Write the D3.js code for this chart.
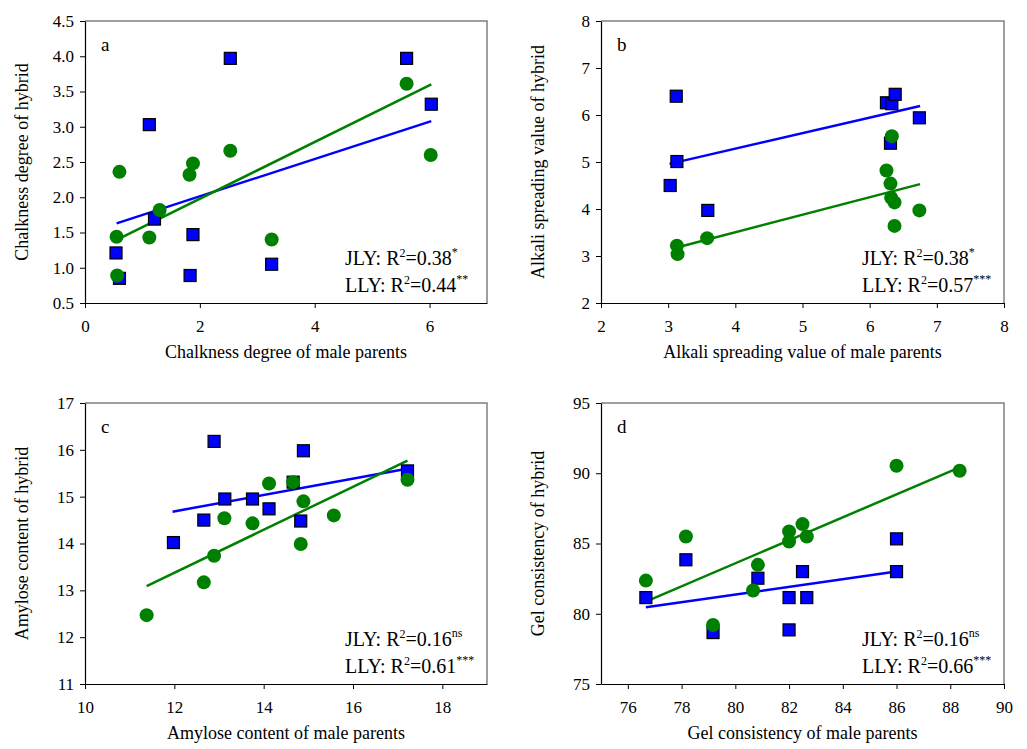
<!DOCTYPE html>
<html>
<head>
<meta charset="utf-8">
<script src="https://cdn.jsdelivr.net/npm/d3@7"></script>
<style>
  body { margin: 0; background: #fff; }
  svg text { font-family: "Liberation Serif", "Times New Roman", serif; fill: #000; }
</style>
</head>
<body>
<div id="chart"></div>
<script>
// a: chalkness degree
const chalkJLY = [[2.53, 3.97], [5.60, 3.97], [6.03, 3.32], [1.12, 3.03], [1.21, 1.69], [1.88, 1.47], [0.54, 1.21], [3.25, 1.05], [1.83, 0.89], [0.60, 0.85]];
const chalkLLY = [[5.60, 3.61], [6.02, 2.60], [2.53, 2.66], [1.88, 2.48], [1.82, 2.32], [0.60, 2.36], [1.30, 1.82], [0.55, 1.44], [1.12, 1.43], [3.25, 1.40], [0.56, 0.89]];
const chalkFitJLY = [[0.55, 1.63], [6.03, 3.08]];
const chalkFitLLY = [[0.56, 1.40], [6.03, 3.60]];

// b: alkali spreading value
const alkaliJLY = [[3.12, 6.40], [3.13, 5.01], [3.03, 4.50], [3.59, 3.97], [6.25, 6.26], [6.33, 6.24], [6.38, 6.44], [6.74, 5.94], [6.31, 5.40]];
const alkaliLLY = [[3.13, 3.22], [3.14, 3.04], [3.58, 3.38], [6.33, 5.55], [6.25, 4.82], [6.31, 4.54], [6.32, 4.24], [6.37, 4.14], [6.37, 3.64], [6.74, 3.97]];
const alkaliFitJLY = [[3.02, 4.96], [6.75, 6.19]];
const alkaliFitLLY = [[3.13, 3.18], [6.75, 4.53]];

// c: amylose content
const amyloseJLY = [[12.89, 16.18], [14.89, 15.98], [17.22, 15.55], [14.66, 15.31], [13.13, 14.95], [13.75, 14.95], [14.12, 14.74], [12.66, 14.50], [14.83, 14.48], [11.98, 14.02]];
const amyloseLLY = [[14.12, 15.28], [14.66, 15.31], [17.22, 15.36], [14.89, 14.90], [15.57, 14.60], [13.12, 14.54], [13.75, 14.43], [14.83, 13.99], [12.89, 13.74], [12.66, 13.17], [11.38, 12.47]];
const amyloseFitJLY = [[11.96, 14.68], [17.24, 15.60]];
const amyloseFitLLY = [[11.38, 13.09], [17.22, 15.77]];

// d: gel consistency
const gelJLY = [[76.67, 81.15], [78.16, 83.84], [79.17, 78.66], [80.84, 82.53], [82.0, 81.15], [82.0, 78.85], [82.5, 83.0], [82.66, 81.15], [86.0, 85.33], [86.0, 83.0]];
const gelLLY = [[76.67, 82.36], [78.16, 85.5], [79.17, 79.2], [80.66, 81.65], [80.84, 83.48], [82.0, 85.86], [82.0, 85.14], [82.5, 86.38], [82.66, 85.5], [86.0, 90.53], [88.35, 90.18]];
const gelFitJLY = [[76.67, 80.46], [86.0, 83.0]];
const gelFitLLY = [[76.67, 80.87], [88.35, 90.42]];

// 축 눈금과 제목
const panelLetters = ["a", "b", "c", "d"];
const xTitles = ["Chalkness degree of male parents", "Alkali spreading value of male parents", "Amylose content of male parents", "Gel consistency of male parents"];
const yTitles = ["Chalkness degree of hybrid", "Alkali spreading value of hybrid", "Amylose content of hybrid", "Gel consistency of hybrid"];
const xDomains = [[0, 7], [2, 8], [10, 19], [75, 90]];
const yDomains = [[0.5, 4.5], [2, 8], [11, 17], [75, 95]];
const xTickValues = [[0, 2, 4, 6], [2, 3, 4, 5, 6, 7, 8], [10, 12, 14, 16, 18], [76, 78, 80, 82, 84, 86, 88, 90]];
const yTickValues = [[0.5, 1.0, 1.5, 2.0, 2.5, 3.0, 3.5, 4.0, 4.5], [2, 3, 4, 5, 6, 7, 8], [11, 12, 13, 14, 15, 16, 17], [75, 80, 85, 90, 95]];
const r2JLY = ["0.38", "0.38", "0.16", "0.16"];
const sigJLY = ["*", "*", "ns", "ns"];
const r2LLY = ["0.44", "0.57", "0.61", "0.66"];
const sigLLY = ["**", "***", "***", "***"];

const width = 1027, height = 749;
const svg = d3.select("#chart").append("svg")
  .attr("width", width)
  .attr("height", height);

// 패널 위치 (플롯 영역)
const boxes = [
  { x: 85, y: 21, w: 402, h: 282 },
  { x: 601, y: 21, w: 403, h: 282 },
  { x: 85, y: 403, w: 402, h: 281 },
  { x: 601, y: 403, w: 403, h: 281 }
];

const panels = [
  { jly: chalkJLY, lly: chalkLLY, fitJ: chalkFitJLY, fitL: chalkFitLLY, fmt: d3.format(".1f") },
  { jly: alkaliJLY, lly: alkaliLLY, fitJ: alkaliFitJLY, fitL: alkaliFitLLY, fmt: d3.format("d") },
  { jly: amyloseJLY, lly: amyloseLLY, fitJ: amyloseFitJLY, fitL: amyloseFitLLY, fmt: d3.format("d") },
  { jly: gelJLY, lly: gelLLY, fitJ: gelFitJLY, fitL: gelFitLLY, fmt: d3.format("d") }
];

panels.forEach((p, i) => {
  const b = boxes[i];
  const g = svg.append("g").attr("transform", `translate(${b.x},${b.y})`);

  const x = d3.scaleLinear().domain(xDomains[i]).range([0, b.w]);
  const y = d3.scaleLinear().domain(yDomains[i]).range([b.h, 0]);

  // 위/오른쪽 테두리 (회색)
  g.append("path")
    .attr("d", `M0,0H${b.w}V${b.h}`)
    .attr("fill", "none")
    .attr("stroke", "#808080")
    .attr("stroke-width", 1.5);

  // 축
  const xAxis = g.append("g")
    .attr("transform", `translate(0,${b.h})`)
    .call(d3.axisBottom(x).tickValues(xTickValues[i]).tickFormat(d3.format("d")).tickSize(5).tickPadding(12).tickSizeOuter(0));
  const yAxis = g.append("g")
    .call(d3.axisLeft(y).tickValues(yTickValues[i]).tickFormat(p.fmt).tickSize(5).tickPadding(6).tickSizeOuter(0));

  [xAxis, yAxis].forEach(ax => {
    ax.select(".domain").attr("stroke", "#000").attr("stroke-width", 1.2);
    ax.selectAll(".tick line").attr("stroke", "#000");
    ax.selectAll("text")
      .attr("font-family", "Liberation Serif, serif")
      .attr("font-size", 17);
  });

  // 축 제목
  g.append("text")
    .attr("x", b.w / 2)
    .attr("y", b.h + 55)
    .attr("text-anchor", "middle")
    .attr("font-size", 18)
    .text(xTitles[i]);

  g.append("text")
    .attr("transform", `translate(${-57},${b.h / 2}) rotate(-90)`)
    .attr("text-anchor", "middle")
    .attr("font-size", 18)
    .text(yTitles[i]);

  // 패널 문자
  g.append("text")
    .attr("x", 16)
    .attr("y", 30)
    .attr("font-size", 19)
    .text(panelLetters[i]);

  // 회귀선
  const line = d3.line().x(d => x(d[0])).y(d => y(d[1]));
  g.append("path").attr("d", line(p.fitJ))
    .attr("fill", "none").attr("stroke", "#0000ff").attr("stroke-width", 2.5);
  g.append("path").attr("d", line(p.fitL))
    .attr("fill", "none").attr("stroke", "#008000").attr("stroke-width", 2.5);

  // JLY 사각형
  g.selectAll(".sq")
    .data(p.jly)
    .enter()
    .append("rect")
    .attr("class", "sq")
    .attr("x", d => x(d[0]) - 6)
    .attr("y", d => y(d[1]) - 6)
    .attr("width", 12)
    .attr("height", 12)
    .attr("fill", "#0000ff")
    .attr("stroke", "#000")
    .attr("stroke-width", 1.2);

  // LLY 원
  g.selectAll(".dot")
    .data(p.lly)
    .enter()
    .append("circle")
    .attr("class", "dot")
    .attr("cx", d => x(d[0]))
    .attr("cy", d => y(d[1]))
    .attr("r", 7)
    .attr("fill", "#008000");

  // R² 주석
  const ann = [["JLY", r2JLY[i], sigJLY[i]], ["LLY", r2LLY[i], sigLLY[i]]];
  ann.forEach((a, k) => {
    const t = g.append("text")
      .attr("x", b.w - 142)
      .attr("y", b.h - 38 + k * 27)
      .attr("font-size", 20);
    t.append("tspan").text(a[0] + ": R");
    t.append("tspan").attr("font-size", 12).attr("dy", -8).text("2");
    t.append("tspan").attr("dy", 8).text("=" + a[1]);
    t.append("tspan").attr("font-size", 12).attr("dy", -9).text(a[2]);
  });
});
</script>
</body>
</html>
